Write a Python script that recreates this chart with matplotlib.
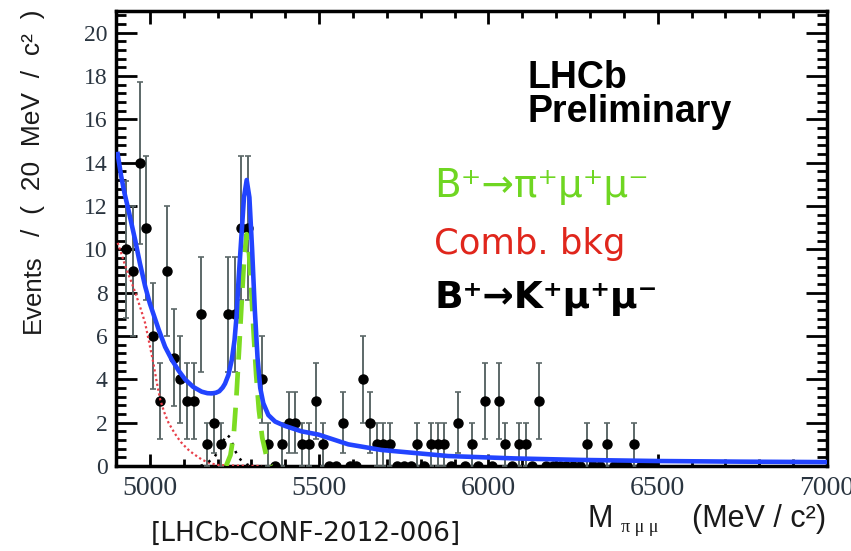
import numpy as np
import matplotlib
matplotlib.use("Agg")
import matplotlib.pyplot as plt
from matplotlib.ticker import MultipleLocator

# ---- data ----
mass = [4930, 4950, 4970, 4990, 5010, 5030, 5050, 5070, 5090, 5110, 5130, 5150,
        5170, 5190, 5210, 5230, 5250, 5270, 5290, 5330, 5350, 5370, 5390, 5410,
        5430, 5450, 5470, 5490, 5510, 5530, 5550, 5570, 5590, 5610, 5630, 5650,
        5670, 5690, 5710, 5730, 5750, 5770, 5790, 5810, 5830, 5850, 5870, 5890,
        5910, 5930, 5950, 5970, 5990, 6010, 6030, 6050, 6070, 6090, 6110, 6130,
        6150, 6170, 6190, 6210, 6230, 6250, 6270, 6290, 6310, 6330, 6350, 6370,
        6390, 6410, 6430, 6450, 6470, 6490]
counts = [10, 9, 14, 11, 6, 3, 9, 5, 4, 3, 3, 7,
          1, 2, 1, 7, 7, 11, 11, 4, 1, 0, 1, 2,
          2, 1, 1, 3, 1, 0, 0, 2, 0, 0, 4, 2,
          1, 1, 1, 0, 0, 0, 1, 0, 1, 1, 1, 0,
          2, 0, 1, 0, 3, 0, 3, 1, 0, 1, 1, 0,
          3, 0, 0, 0, 0, 0, 0, 1, 0, 0, 1, 0,
          0, 0, 1, 0, 0, 0]

total_x = [4905, 4915, 4925, 4937, 4947, 4957, 4970, 4986, 5000, 5013, 5026,
           5045, 5065, 5085, 5104, 5128, 5153, 5170, 5183, 5195, 5205, 5215,
           5222, 5232, 5242, 5250, 5256, 5262, 5270, 5278, 5286, 5294, 5302,
           5310, 5318, 5326, 5335, 5350, 5370, 5399, 5448, 5498, 5586, 5684,
           5881, 6077, 6274, 6500, 6750, 7000]
total_y = [14.4, 13.4, 12.6, 11.8, 11.1, 10.4, 9.4, 8.3, 7.5, 6.9, 6.3,
           5.5, 4.9, 4.4, 4.0, 3.65, 3.43, 3.36, 3.35, 3.38, 3.45, 3.62,
           3.8, 4.2, 4.9, 5.8, 6.9, 8.6, 10.5, 12.4, 13.2, 12.4, 10.0,
           7.2, 5.0, 3.6, 2.9, 2.35, 2.05, 1.85, 1.6, 1.45, 1.0, 0.74,
           0.46, 0.35, 0.28, 0.23, 0.2, 0.18]

signal_x = [5225, 5238, 5248, 5256, 5264, 5272, 5279, 5286, 5293, 5300, 5307,
            5314, 5322, 5332, 5345, 5358]
signal_y = [0.0, 0.5, 1.5, 3.3, 5.5, 7.8, 9.7, 10.7, 9.8, 8.0, 6.0,
            4.2, 2.6, 1.3, 0.4, 0.0]

comb_x = [4905, 4918, 4930, 4943, 4957, 4971, 4986, 4998, 5011, 5020, 5030,
          5042, 5055, 5068, 5080, 5092, 5104, 5117, 5130, 5142, 5153, 5167,
          5180, 5200, 5250, 5330]
comb_y = [10.3, 9.7, 9.1, 8.6, 8.0, 7.35, 6.6, 5.7, 4.7, 3.9, 3.1,
          2.5, 2.0, 1.65, 1.35, 1.1, 0.9, 0.7, 0.55, 0.42, 0.3, 0.2,
          0.12, 0.05, 0.02, 0.0]

misid_x = [5150, 5170, 5190, 5205, 5215, 5227, 5238, 5248, 5258, 5270, 5285, 5300]
misid_y = [0.0, 0.15, 0.4, 0.75, 1.1, 1.45, 1.3, 0.85, 0.5, 0.25, 0.08, 0.0]

# ---- figure ----
W, H = 851, 551
fig = plt.figure(figsize=(W / 100, H / 100), dpi=100)
ax = fig.add_axes([116 / W, 1 - 466 / H, (827 - 116) / W, (466 - 11) / H])

m = np.array(mass, dtype=float)
c = np.array(counts, dtype=float)
ax.errorbar(m, c, yerr=np.sqrt(c), fmt='o', color='black', ms=6.5,
            ecolor='#5c6868', elinewidth=1.4, capsize=2.5, capthick=1.2,
            zorder=3)

ax.plot(comb_x, comb_y, color='#e8404a', lw=1.6, ls=(0, (1, 1.2)), zorder=4)
ax.plot(misid_x, misid_y, color='black', lw=1.8, ls=(0, (1, 2.5)), zorder=4)
ax.plot(signal_x, signal_y, color='#7ddc22', lw=3.4, ls=(0, (5, 2.6)), zorder=5)
ax.plot(total_x, total_y, color='#2244ff', lw=3.3, zorder=6)

ax.set_xlim(4900, 7000)
ax.set_ylim(0, 21)
ax.xaxis.set_major_locator(MultipleLocator(500))
ax.xaxis.set_minor_locator(MultipleLocator(100))
ax.yaxis.set_major_locator(MultipleLocator(2))
ax.yaxis.set_minor_locator(MultipleLocator(0.4))

for s in ax.spines.values():
    s.set_linewidth(2.5)
ax.tick_params(axis='both', which='both', direction='in', top=True, right=True,
               width=2.0, colors='black', labelcolor='#2a3540')
ax.tick_params(axis='y', which='major', length=15, pad=6)
ax.tick_params(axis='y', which='minor', length=7)
ax.tick_params(axis='x', which='major', length=9, pad=7)
ax.tick_params(axis='x', which='minor', length=5)
for lab in ax.get_xticklabels():
    lab.set_fontfamily('Liberation Serif')
    lab.set_fontsize(20)
for lab in ax.get_yticklabels():
    lab.set_fontfamily('Liberation Serif')
    lab.set_fontsize(17)

# axis labels
fig.text(33 / W, 1 - 333 / H, 'Events', rotation=90,
         ha='center', va='bottom', fontsize=18.5, family='Liberation Sans',
         color='#1a1a1a')
fig.text(33 / W, 1 - 10 / H, '/  (  20  MeV  /  c²  )', rotation=90,
         ha='center', va='top', fontsize=19, family='Liberation Sans',
         color='#1a1a1a')
fig.text(587 / W, 1 - 527 / H, 'M', ha='left', va='baseline', fontsize=22,
         family='Liberation Sans', color='#1a1a1a')
fig.text(621 / W, 1 - 532 / H, 'π μ μ', ha='left', va='baseline', fontsize=13,
         family='Liberation Serif', color='#1a1a1a')
fig.text(826 / W, 1 - 527 / H, '(MeV / c²)', ha='right', va='baseline',
         fontsize=22, family='Liberation Sans', color='#1a1a1a')
fig.text(151 / W, 1 - 534 / H, '[LHCb-CONF-2012-006]', ha='left', va='center',
         fontsize=19, family='DejaVu Sans', color='#1a1a1a')

# labels inside the plot
fig.text(528 / W, 1 - 60 / H, 'LHCb\nPreliminary', ha='left', va='top',
         fontsize=27, fontweight='bold', family='Liberation Sans',
         linespacing=0.92, color='black')
fig.text(434 / W, 1 - 186 / H, 'B⁺→π⁺μ⁺μ⁻', ha='left', va='center',
         fontsize=28, family='DejaVu Sans', color='#6fd622')
fig.text(434 / W, 1 - 244 / H, 'Comb. bkg', ha='left', va='center',
         fontsize=25.5, family='DejaVu Sans', color='#e0261c')
fig.text(434 / W, 1 - 298 / H, 'B⁺→K⁺μ⁺μ⁻', ha='left', va='center',
         fontsize=27, family='DejaVu Sans', fontweight='bold', color='black')

fig.savefig('out.png', dpi=100)
